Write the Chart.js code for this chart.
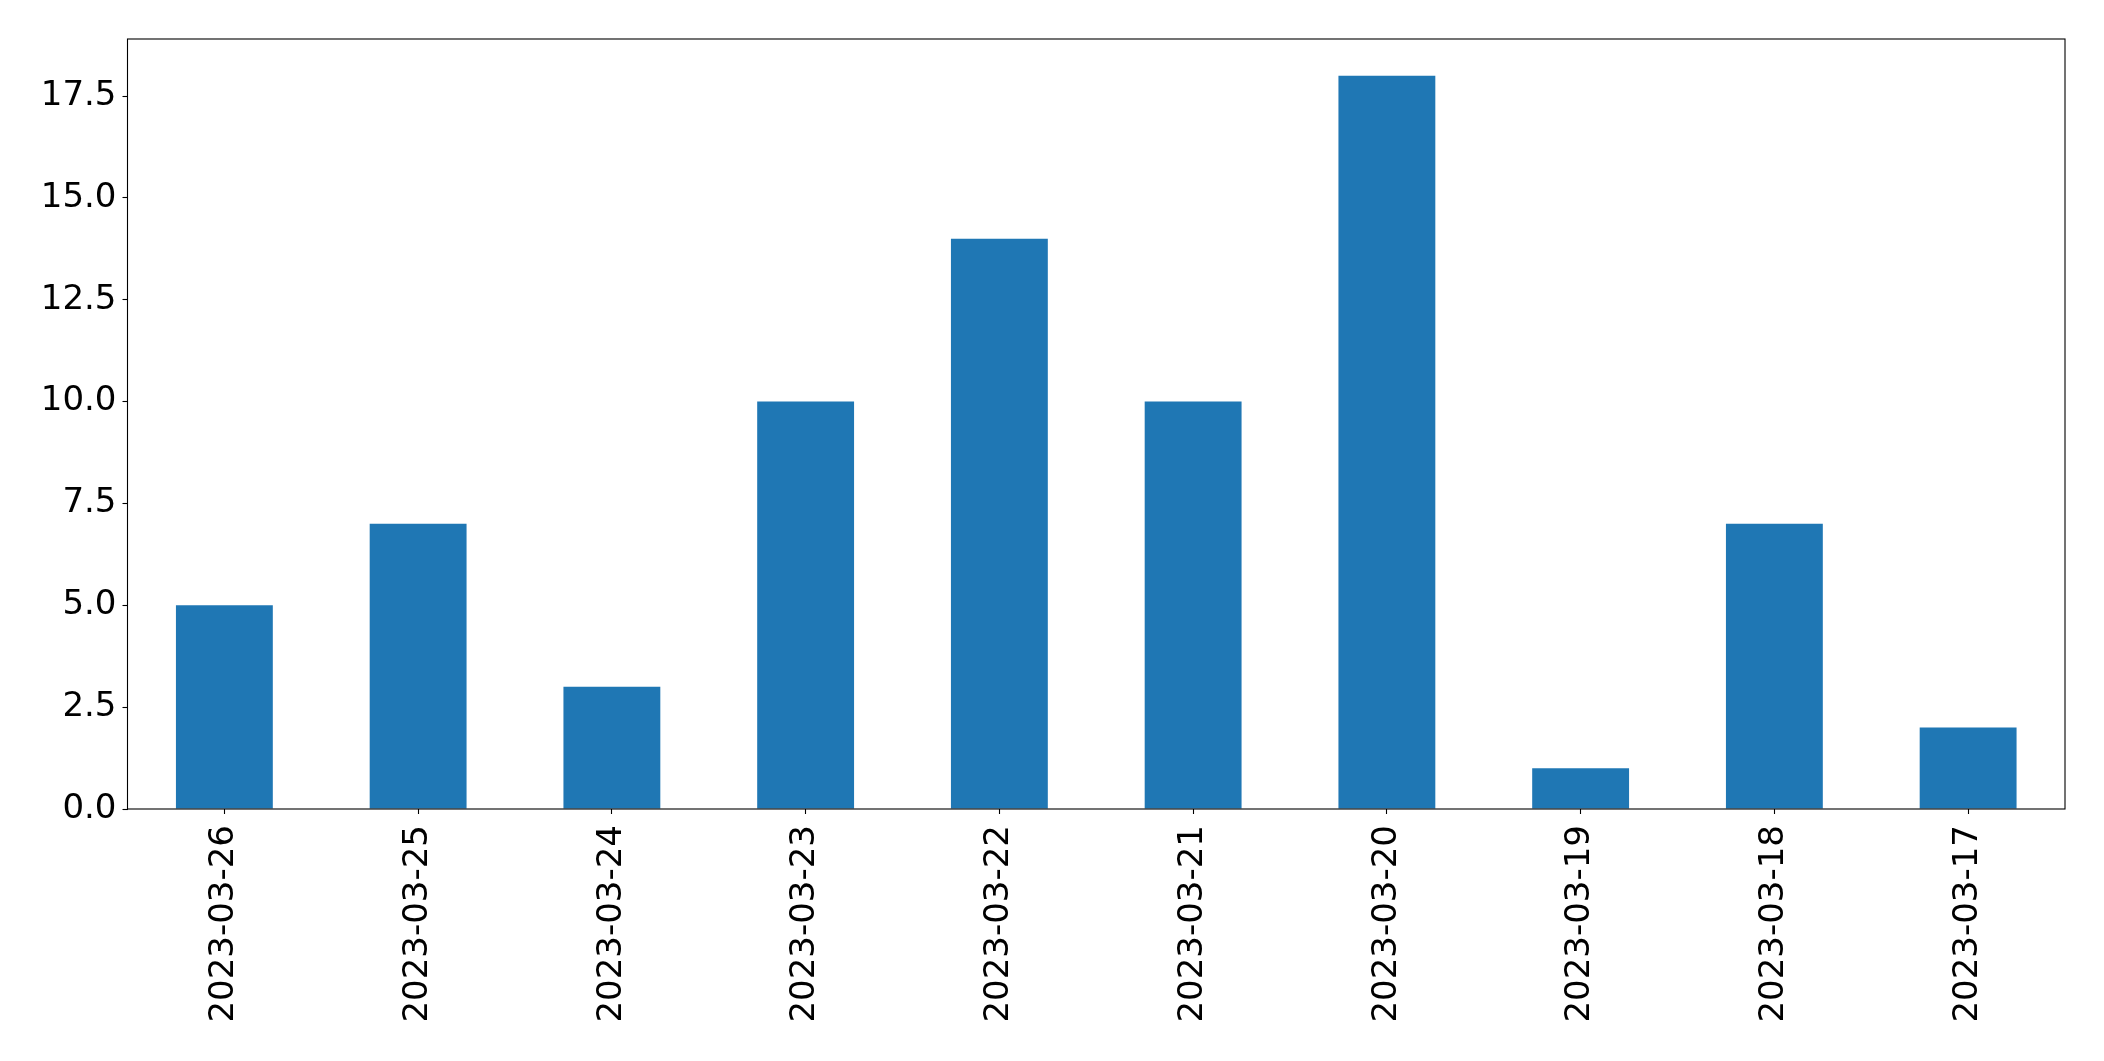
<!DOCTYPE html>
<html>
<head>
<meta charset="utf-8">
<script src="https://cdn.jsdelivr.net/npm/chart.js@4/dist/chart.umd.min.js"></script>
<style>
  html, body { margin: 0; padding: 0; background: #fff; }
  canvas { display: block; }
</style>
</head>
<body>
<canvas id="chart" width="2104" height="1061"></canvas>
<script>
const dates = ["2023-03-26", "2023-03-25", "2023-03-24", "2023-03-23", "2023-03-22",
               "2023-03-21", "2023-03-20", "2023-03-19", "2023-03-18", "2023-03-17"]
const counts = [5, 7, 3, 10, 14, 10, 18, 1, 7, 2]
const yTicks = [0, 2.5, 5, 7.5, 10, 12.5, 15, 17.5]
const yMax = 18.9

const font = { family: "DejaVu Sans", size: 34 }

// matplotlib-like frame around the plot area
const frame = {
  id: "frame",
  afterDraw(chart) {
    const { ctx, chartArea: a } = chart
    ctx.save()
    ctx.strokeStyle = "#000"
    ctx.lineWidth = 1.1
    ctx.strokeRect(a.left, a.top, a.right - a.left, a.bottom - a.top)
    ctx.restore()
  }
}

new Chart(document.getElementById("chart"), {
  type: "bar",
  data: {
    labels: dates,
    datasets: [{
      data: counts,
      backgroundColor: "#1f77b4",
      barPercentage: 0.5,
      categoryPercentage: 1.0
    }]
  },
  options: {
    responsive: false,
    animation: false,
    devicePixelRatio: 1,
    layout: { padding: { top: 39, right: 39, bottom: 0, left: 0 } },
    plugins: { legend: { display: false }, tooltip: { enabled: false } },
    scales: {
      x: {
        afterFit: s => { s.height = 252 },
        grid: { offset: false, drawOnChartArea: false, tickLength: 5, color: "#000", tickWidth: 1.1 },
        border: { display: false },
        ticks: { color: "#000", font, minRotation: 90, maxRotation: 90, autoSkip: false, padding: 11 }
      },
      y: {
        min: 0,
        max: yMax,
        afterFit: s => { s.width = 127.5 },
        afterBuildTicks: s => { s.ticks = yTicks.map(v => ({ value: v })) },
        grid: { drawOnChartArea: false, tickLength: 5, color: "#000", tickWidth: 1.1 },
        border: { display: false },
        ticks: { color: "#000", font, padding: 6, callback: v => v.toFixed(1) }
      }
    }
  },
  plugins: [frame]
})
</script>
</body>
</html>
